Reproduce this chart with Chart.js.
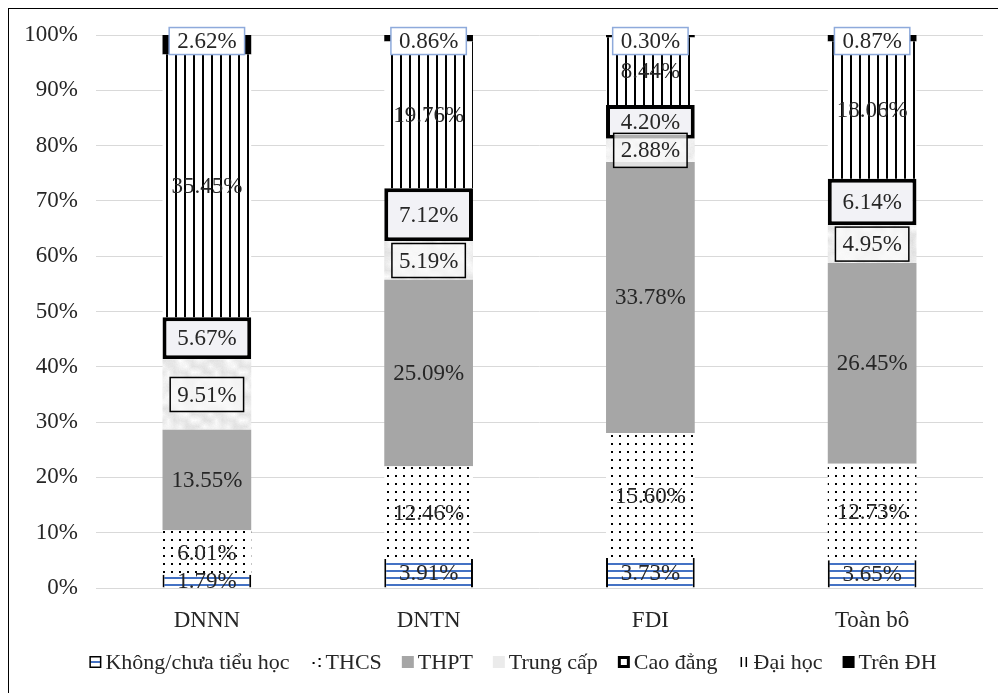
<!DOCTYPE html>
<html lang="vi">

<head>
    <meta charset="UTF-8">
    <title>Trình độ lao động theo loại hình doanh nghiệp</title>
    <script src="https://cdn.jsdelivr.net/npm/chart.js"></script>
    <style>
        body { margin: 0; background: #fff; overflow: hidden; }
        canvas { display: block; }
    </style>
</head>

<body>
    <canvas id="grafico" width="998" height="693"></canvas>
</body>

</html>
<script>

    // dữ liệu
    const categories = ['DNNN', 'DNTN', 'FDI', 'Toàn bộ'];
    const seriesNames = ['Không/chưa tiểu học', 'THCS', 'THPT', 'Trung cấp', 'Cao đẳng', 'Đại học', 'Trên ĐH'];
    const khongTH = [1.79, 3.91, 3.73, 3.65];
    const thcs = [6.01, 12.46, 15.60, 12.73];
    const thpt = [13.55, 25.09, 33.78, 26.45];
    const trungCap = [9.51, 5.19, 2.88, 4.95];
    const caoDang = [5.67, 7.12, 4.20, 6.14];
    const daiHoc = [35.45, 19.76, 8.44, 18.06];
    const trenDH = [2.62, 0.86, 0.30, 0.87];
    const yTicks = ['0%', '10%', '20%', '30%', '40%', '50%', '60%', '70%', '80%', '90%', '100%'];

    const rawSeries = [khongTH, thcs, thpt, trungCap, caoDang, daiHoc, trenDH];
    const totals = categories.map((c, i) => rawSeries.reduce((s, arr) => s + arr[i], 0));

    const FONT = 'Liberation Serif';
    const TXT = '#262626';

    function makeTile(w, h, draw) {
        const c = document.createElement('canvas');
        c.width = w; c.height = h;
        const g = c.getContext('2d');
        draw(g, w, h);
        return g.createPattern(c, 'repeat');
    }

    // kẻ ngang xanh
    const patKhong = makeTile(7, 7, (g) => {
        g.fillStyle = '#fff'; g.fillRect(0, 0, 7, 7);
        g.fillStyle = '#4472c4'; g.fillRect(0, 3, 7, 2);
    });
    // chấm
    const patDots = makeTile(8, 8, (g) => {
        g.fillStyle = '#fff'; g.fillRect(0, 0, 8, 8);
        g.fillStyle = '#000'; g.fillRect(3, 3, 2, 2);
    });
    // kẻ dọc
    const patDoc = makeTile(9, 9, (g) => {
        g.fillStyle = '#fff'; g.fillRect(0, 0, 9, 9);
        g.fillStyle = '#000'; g.fillRect(4, 0, 2, 9);
    });
    // vân đá xám nhạt
    const patVan = makeTile(48, 48, (g, w, h) => {
        const hash = (x, y) => {
            const n = Math.sin(x * 12.9898 + y * 78.233) * 43758.5453;
            return n - Math.floor(n);
        };
        const cell = 6;
        const img = g.createImageData(w, h);
        for (let y = 0; y < h; y++) {
            for (let x = 0; x < w; x++) {
                const gx = x / cell, gy = y / cell;
                const x0 = Math.floor(gx), y0 = Math.floor(gy);
                const fx = gx - x0, fy = gy - y0;
                const n = w / cell;
                const a = hash(x0 % n, y0 % n), b = hash((x0 + 1) % n, y0 % n);
                const c = hash(x0 % n, (y0 + 1) % n), d = hash((x0 + 1) % n, (y0 + 1) % n);
                const v = a * (1 - fx) * (1 - fy) + b * fx * (1 - fy) + c * (1 - fx) * fy + d * fx * fy;
                const col = Math.round(222 + v * 28 + hash(x, y) * 5);
                const k = (y * w + x) * 4;
                img.data[k] = col; img.data[k + 1] = col; img.data[k + 2] = col; img.data[k + 3] = 255;
            }
        }
        g.putImageData(img, 0, 0);
    });

    const styles = [
        { backgroundColor: patKhong, borderColor: '#000', borderWidth: { left: 2, right: 2, top: 0, bottom: 0 } },
        { backgroundColor: patDots, borderColor: '#000', borderWidth: 0 },
        { backgroundColor: '#a6a6a6', borderColor: '#a6a6a6', borderWidth: 0 },
        { backgroundColor: patVan, borderColor: '#e0e0e0', borderWidth: 0 },
        { backgroundColor: '#f2f2f6', borderColor: '#000', borderWidth: 4 },
        { backgroundColor: patDoc, borderColor: '#000', borderWidth: 0 },
        { backgroundColor: '#000', borderColor: '#000', borderWidth: 0 }
    ];

    const datasets = rawSeries.map((arr, d) => ({
        label: seriesNames[d],
        data: arr.map((v, i) => v / totals[i] * 100),
        backgroundColor: styles[d].backgroundColor,
        borderColor: styles[d].borderColor,
        borderWidth: styles[d].borderWidth,
        borderSkipped: false,
        categoryPercentage: 1,
        barPercentage: 0.4
    }));

    const nenVaKhung = {
        id: 'nenVaKhung',
        beforeDraw(chart) {
            const c = chart.ctx;
            c.save();
            c.fillStyle = '#fff';
            c.fillRect(0, 0, chart.width, chart.height);
            c.strokeStyle = '#000';
            c.lineWidth = 1;
            c.strokeRect(8.5, 8.5, 1000, 700);
            c.restore();
        }
    };

    const nhanSo = {
        id: 'nhanSo',
        afterDatasetsDraw(chart) {
            const c = chart.ctx;
            c.save();
            c.font = '23px "' + FONT + '"';
            c.textAlign = 'center';
            c.textBaseline = 'middle';
            rawSeries.forEach((arr, d) => {
                chart.getDatasetMeta(d).data.forEach((bar, i) => {
                    const txt = arr[i].toFixed(2) + '%';
                    const x = bar.x;
                    let y = (bar.y + bar.base) / 2;
                    const tw = c.measureText(txt).width;
                    if (d === 6) {
                        y = chart.scales.y.getPixelForValue(99);
                        c.fillStyle = '#fff';
                        c.fillRect(x - tw / 2 - 8, y - 13, tw + 16, 27);
                        c.strokeStyle = '#8eaadb';
                        c.lineWidth = 1.5;
                        c.strokeRect(x - tw / 2 - 8, y - 13, tw + 16, 27);
                    } else if (d === 3) {
                        c.fillStyle = 'rgba(250,250,250,0.7)';
                        c.fillRect(x - tw / 2 - 7, y - 17, tw + 14, 34);
                        c.strokeStyle = '#000';
                        c.lineWidth = 1.5;
                        c.strokeRect(x - tw / 2 - 7, y - 17, tw + 14, 34);
                    }
                    c.fillStyle = TXT;
                    c.fillText(txt, x, y + 1);
                });
            });
            c.restore();
        }
    };

    const chuGiai = {
        id: 'chuGiai',
        afterDraw(chart) {
            const c = chart.ctx;
            c.save();
            c.font = '22px "' + FONT + '"';
            c.textBaseline = 'middle';
            const box = 12, gap = 4, itemGap = 20;
            const widths = seriesNames.map(n => box + gap + c.measureText(n).width);
            const total = widths.reduce((a, b) => a + b, 0) + itemGap * (seriesNames.length - 1);
            let x = 513 - total / 2;
            const y = 662;
            seriesNames.forEach((name, d) => {
                const bx = x, by = y - box / 2;
                if (d === 0) {
                    c.fillStyle = '#fff'; c.fillRect(bx, by, box, box);
                    c.fillStyle = '#4472c4'; c.fillRect(bx + 1, y - 1, box - 2, 2);
                    c.strokeStyle = '#000'; c.lineWidth = 1.5; c.strokeRect(bx + 0.75, by + 0.75, box - 1.5, box - 1.5);
                } else if (d === 1) {
                    c.fillStyle = '#000';
                    c.fillRect(bx + 3, y, 2, 2);
                    c.fillRect(bx + 9, y - 4, 2, 2);
                    c.fillRect(bx + 9, y + 3, 2, 2);
                } else if (d === 4) {
                    c.fillStyle = '#fff'; c.fillRect(bx, by, box, box);
                    c.strokeStyle = '#000'; c.lineWidth = 3; c.strokeRect(bx + 1.5, by + 1.5, box - 3, box - 3);
                } else if (d === 5) {
                    c.fillStyle = '#000';
                    c.fillRect(bx + 3, by + 1, 1.5, box - 2);
                    c.fillRect(bx + 8, by + 1, 1.5, box - 2);
                } else if (d === 3) {
                    c.fillStyle = '#ebebeb'; c.fillRect(bx, by, box, box);
                } else {
                    c.fillStyle = styles[d].backgroundColor; c.fillRect(bx, by, box, box);
                }
                c.fillStyle = TXT;
                c.fillText(name, bx + box + gap, y + 1);
                x += widths[d] + itemGap;
            });
            c.restore();
        }
    };

    const ctx = document.getElementById('grafico').getContext('2d');

    const grafico1 = new Chart(ctx, {
        type: 'bar',
        data: {
            labels: categories,
            datasets: datasets
        },
        options: {
            responsive: false,
            animation: false,
            layout: {
                padding: { top: 35, right: 15, bottom: 65, left: 0 }
            },
            scales: {
                x: {
                    stacked: true,
                    grid: { display: false },
                    border: { display: false },
                    ticks: {
                        color: TXT,
                        padding: 11,
                        font: { family: FONT, size: 23 }
                    },
                    afterFit: (s) => { s.height = 40; }
                },
                y: {
                    stacked: true,
                    min: 0,
                    max: 100,
                    border: { display: false },
                    grid: { color: '#d9d9d9', drawTicks: false },
                    ticks: {
                        stepSize: 10,
                        padding: 18,
                        color: TXT,
                        font: { family: FONT, size: 23 },
                        callback: (v, i) => yTicks[i]
                    },
                    afterFit: (s) => { s.width = 96; }
                }
            },
            plugins: {
                legend: { display: false },
                tooltip: { enabled: false }
            }
        },
        plugins: [nenVaKhung, nhanSo, chuGiai]
    });

</script>
